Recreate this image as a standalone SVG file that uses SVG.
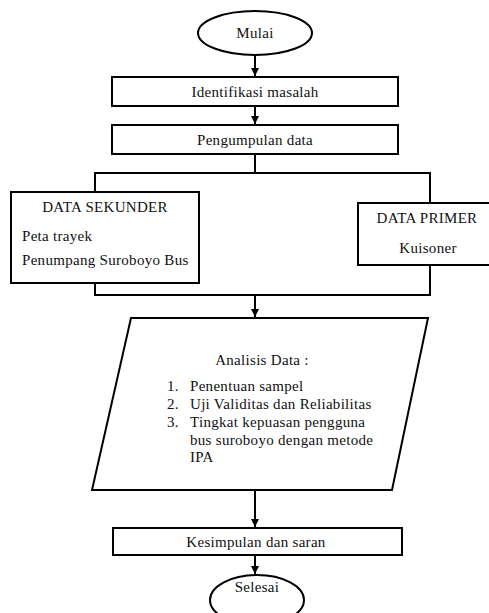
<svg xmlns="http://www.w3.org/2000/svg" width="489" height="613" viewBox="0 0 489 613" font-family="Liberation Serif, Times New Roman, DejaVu Serif, serif">
<style>
.s{fill:#fff;stroke:#000;stroke-width:2}
.l{fill:none;stroke:#000;stroke-width:2}
text{font-family:'Liberation Serif','Times New Roman','DejaVu Serif',serif;font-size:15px;letter-spacing:0.3px;fill:#111}
.c{text-anchor:middle}
</style>
<defs>
<marker id="a" markerWidth="8" markerHeight="8" refX="8" refY="4" orient="auto" markerUnits="userSpaceOnUse">
<path d="M0,0 L8,4 L0,8 Z" fill="#000"/>
</marker>
</defs>
<rect width="489" height="613" fill="#fff"/>
<g id="connectors">
<line class="l" x1="255" y1="55" x2="255" y2="76" marker-end="url(#a)"/>
<line class="l" x1="255" y1="106" x2="255" y2="124" marker-end="url(#a)"/>
<polyline class="l" points="255,154 255,173"/>
<polyline class="l" points="95,192 95,173 430,173 430,203"/>
<polyline class="l" points="95,283 95,295 430,295 430,265"/>
<line class="l" x1="255" y1="295" x2="255" y2="317" marker-end="url(#a)"/>
<line class="l" x1="255" y1="490" x2="255" y2="527" marker-end="url(#a)"/>
<line class="l" x1="255" y1="555" x2="255" y2="574" marker-end="url(#a)"/>
</g>
<g id="mulai">
<ellipse class="s" cx="255" cy="33" rx="57" ry="22"/>
<text class="c" x="255" y="38">Mulai</text>
</g>
<g id="identifikasi">
<rect class="s" x="112" y="77" width="286" height="29"/>
<text class="c" x="255" y="97">Identifikasi masalah</text>
</g>
<g id="pengumpulan">
<rect class="s" x="112" y="125" width="286" height="29"/>
<text class="c" x="255" y="145">Pengumpulan data</text>
</g>
<g id="sekunder">
<rect class="s" x="11" y="192" width="188" height="91"/>
<text class="c" x="105" y="212">DATA SEKUNDER</text>
<text x="22" y="241">Peta trayek</text>
<text x="22" y="265">Penumpang Suroboyo Bus</text>
</g>
<g id="primer">
<rect class="s" x="358" y="203" width="140" height="62"/>
<text class="c" x="427" y="223">DATA PRIMER</text>
<text class="c" x="428" y="253">Kuisoner</text>
</g>
<g id="analisis">
<polygon class="s" points="131,318 428,318 392,490 92,490"/>
<text class="c" x="262" y="365">Analisis Data :</text>
<text x="167" y="391">1.</text><text x="190" y="391">Penentuan sampel</text>
<text x="167" y="409">2.</text><text x="190" y="409">Uji Validitas dan Reliabilitas</text>
<text x="167" y="427">3.</text><text x="190" y="427">Tingkat kepuasan pengguna</text>
<text x="190" y="445">bus suroboyo dengan metode</text>
<text x="190" y="462">IPA</text>
</g>
<g id="kesimpulan">
<rect class="s" x="113" y="528" width="289" height="27"/>
<text class="c" x="256" y="547">Kesimpulan dan saran</text>
</g>
<g id="selesai">
<ellipse class="s" cx="257" cy="600" rx="47" ry="25"/>
<text class="c" x="257" y="592">Selesai</text>
</g>
</svg>
